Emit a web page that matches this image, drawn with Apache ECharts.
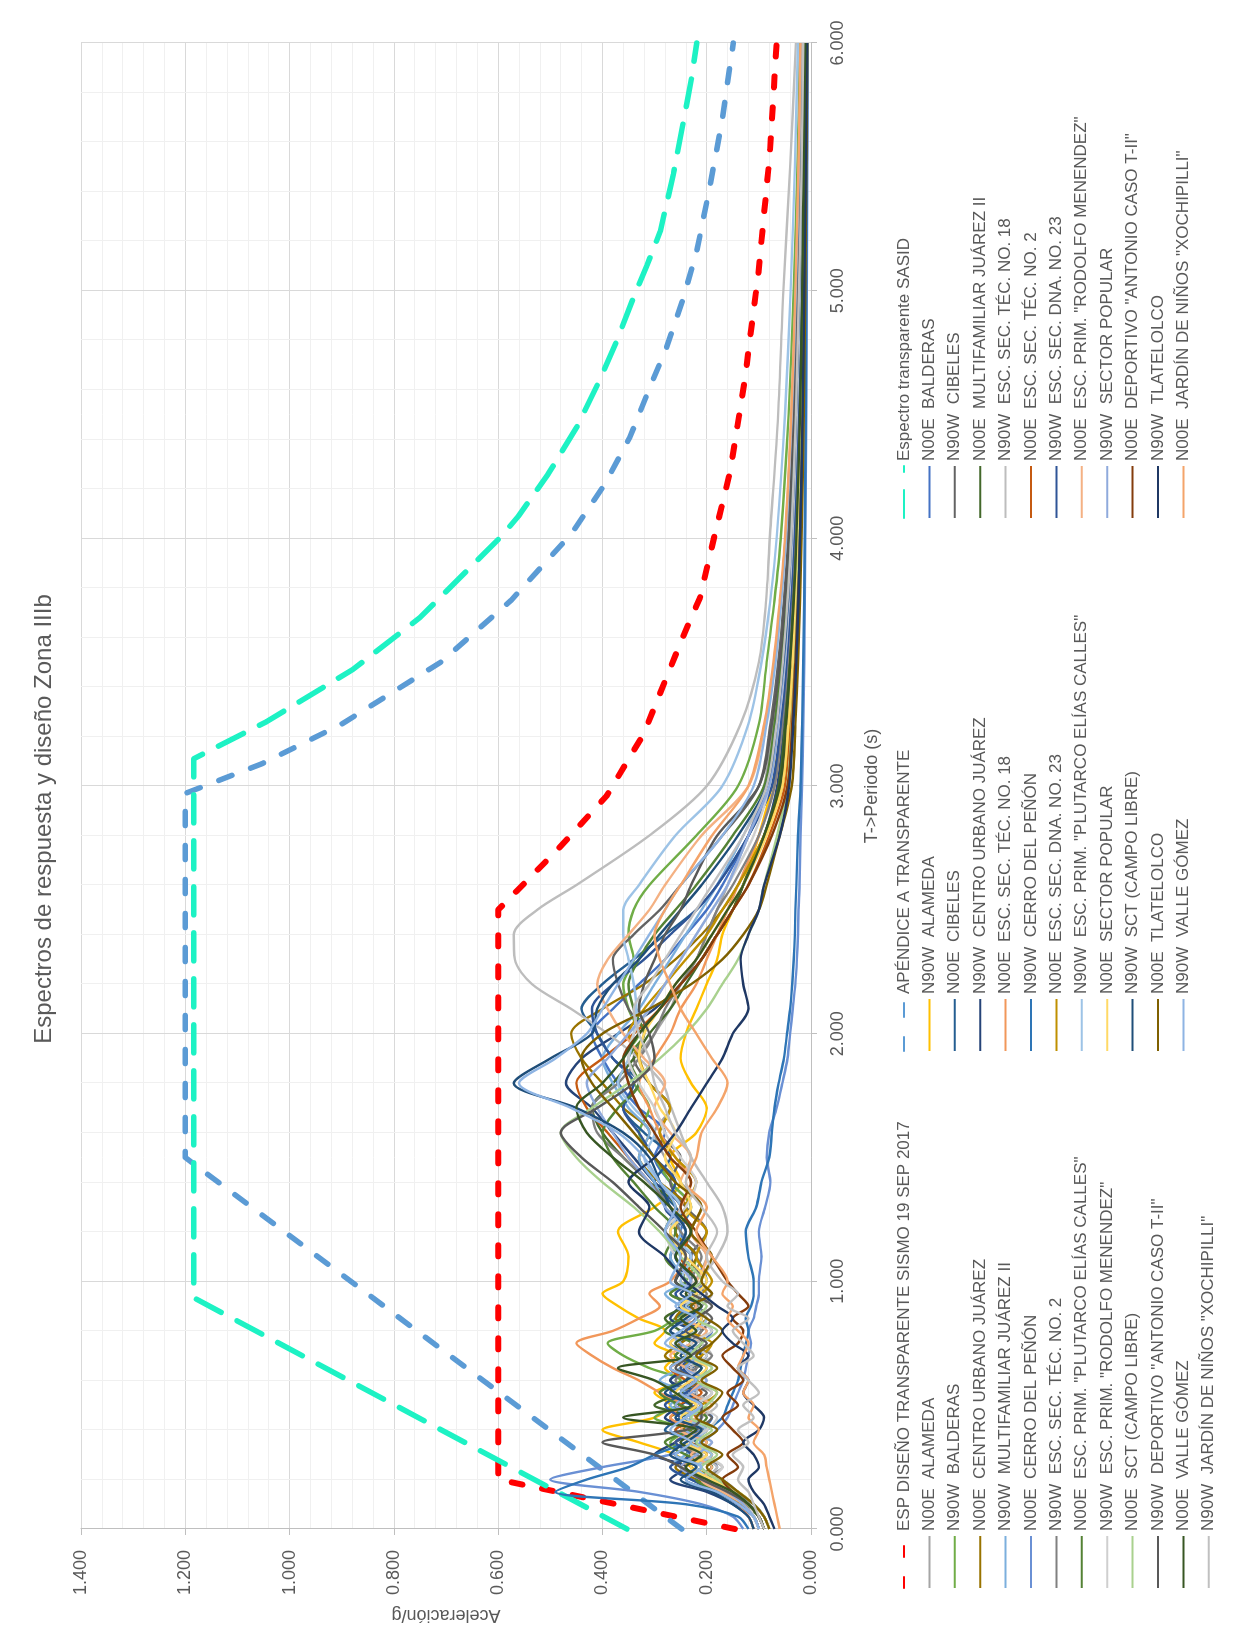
<!DOCTYPE html>
<html>
<head>
<meta charset="utf-8">
<script src="https://cdn.jsdelivr.net/npm/echarts@6.0.0/dist/echarts.min.js"></script>
<style>
  html, body { margin: 0; padding: 0; background: #ffffff; overflow: hidden; }
  #frame { position: absolute; left: 6px; top: 4px; width: 1222px; height: 1631px; border: 1px solid #d9d9d9; box-sizing: border-box; }
  /* the chart is laid out landscape and turned a quarter turn to sit upright on the page */
  #chart { position: absolute; left: 0; top: 0; width: 1638px; height: 1233px; transform-origin: 0 0; transform: translate(0px, 1638px) rotate(-90deg); }
</style>
</head>
<body>
<div id="frame"></div>
<div id="chart"></div>
<script>
// ---------- design spectra (period s, acceleration g) ----------
const espT   = [0, 0.2, 2.5, 2.75, 2.96, 3.21, 3.59, 3.76, 4.02, 4.27, 4.64, 5.07, 5.55, 6.0];
const espA   = [0.146, 0.6, 0.6, 0.483, 0.392, 0.321, 0.248, 0.213, 0.184, 0.155, 0.127, 0.101, 0.079, 0.066];
const apT    = [0, 1.5, 2.97, 3.09, 3.25, 3.5, 3.75, 4.02, 4.22, 4.41, 4.61, 4.77, 4.97, 5.16, 5.42, 5.68, 6.0];
const apA    = [0.248, 1.2, 1.2, 1.053, 0.90, 0.71, 0.575, 0.459, 0.395, 0.347, 0.309, 0.277, 0.245, 0.219, 0.194, 0.171, 0.149];
const sasidT = [0, 0.934, 3.11, 3.26, 3.47, 3.68, 3.89, 4.01, 4.09, 4.26, 4.45, 4.64, 4.8, 4.97, 5.1, 5.24, 5.47, 5.68, 5.86, 6.0];
const sasidA = [0.353, 1.184, 1.184, 1.044, 0.879, 0.75, 0.65, 0.593, 0.561, 0.504, 0.449, 0.405, 0.372, 0.341, 0.315, 0.289, 0.264, 0.245, 0.229, 0.219];

// ---------- periods shared by the recorded response spectra ----------
const periods = [
  0, 0.05, 0.1, 0.15, 0.2, 0.25, 0.3, 0.35, 0.4, 0.45,
  0.5, 0.55, 0.6, 0.65, 0.7, 0.75, 0.8, 0.85, 0.9, 0.95,
  1.0, 1.1, 1.2, 1.3, 1.4, 1.5, 1.6, 1.7, 1.8, 1.9,
  2.0, 2.1, 2.2, 2.3, 2.4, 2.5, 2.6, 2.8, 3.0, 3.25,
  3.5, 3.75, 4.0, 4.5, 5.0, 5.5, 6.0];

// ---------- recorded spectra, 19 Sep 2017 (Sa/g) ----------
const alamedaN00E = [
  0.09,0.10,0.12,0.14,0.17,0.21,0.19,0.23,0.20,0.24,
  0.22,0.19,0.23,0.21,0.25,0.22,0.20,0.24,0.21,0.19,
  0.22,0.20,0.23,0.21,0.25,0.28,0.30,0.27,0.31,0.33,
  0.30,0.27,0.25,0.22,0.20,0.18,0.16,0.12,0.09,0.072,
  0.058,0.048,0.040,0.031,0.025,0.020,0.017];
const alamedaN90W = [
  0.09,0.10,0.12,0.14,0.19,0.23,0.26,0.33,0.40,0.30,
  0.27,0.30,0.25,0.28,0.26,0.30,0.28,0.33,0.37,0.40,
  0.36,0.35,0.37,0.30,0.25,0.27,0.22,0.20,0.23,0.25,
  0.24,0.22,0.20,0.18,0.17,0.15,0.13,0.10,0.075,0.060,
  0.050,0.043,0.037,0.029,0.023,0.019,0.016];
const balderasN00E = [
  0.08,0.09,0.11,0.15,0.20,0.18,0.22,0.26,0.21,0.19,
  0.23,0.27,0.22,0.20,0.24,0.21,0.19,0.22,0.25,0.23,
  0.20,0.22,0.25,0.23,0.27,0.30,0.28,0.33,0.37,0.40,
  0.42,0.38,0.33,0.28,0.24,0.20,0.17,0.12,0.085,0.065,
  0.052,0.043,0.036,0.027,0.021,0.017,0.014];
const balderasN90W = [
  0.10,0.11,0.13,0.16,0.22,0.25,0.21,0.27,0.24,0.30,
  0.26,0.29,0.25,0.31,0.36,0.39,0.30,0.26,0.23,0.27,
  0.24,0.22,0.26,0.23,0.27,0.30,0.33,0.31,0.34,0.36,
  0.33,0.35,0.36,0.34,0.35,0.34,0.31,0.22,0.14,0.10,
  0.085,0.070,0.058,0.043,0.033,0.026,0.021];
const cibelesN00E = [
  0.10,0.11,0.14,0.18,0.24,0.21,0.26,0.22,0.28,0.25,
  0.21,0.24,0.27,0.23,0.20,0.25,0.22,0.26,0.23,0.21,
  0.24,0.27,0.23,0.26,0.30,0.27,0.32,0.36,0.33,0.38,
  0.41,0.44,0.40,0.34,0.28,0.22,0.18,0.12,0.075,0.058,
  0.047,0.039,0.033,0.025,0.020,0.016,0.013];
const cibelesN90W = [
  0.09,0.10,0.12,0.15,0.19,0.23,0.20,0.25,0.22,0.19,
  0.23,0.20,0.24,0.22,0.26,0.23,0.21,0.19,0.22,0.24,
  0.21,0.23,0.20,0.24,0.27,0.25,0.29,0.27,0.31,0.34,
  0.32,0.35,0.37,0.38,0.34,0.29,0.25,0.17,0.10,0.078,
  0.063,0.052,0.044,0.034,0.027,0.022,0.018];
const centroN00E = [
  0.10,0.11,0.13,0.17,0.22,0.26,0.23,0.20,0.24,0.27,
  0.22,0.25,0.21,0.24,0.28,0.25,0.22,0.26,0.24,0.21,
  0.25,0.22,0.26,0.24,0.29,0.33,0.31,0.36,0.40,0.44,
  0.46,0.40,0.32,0.26,0.21,0.17,0.14,0.09,0.06,0.048,
  0.040,0.034,0.029,0.022,0.017,0.014,0.011];
const centroN90W = [
  0.11,0.12,0.15,0.20,0.27,0.24,0.30,0.26,0.23,0.28,
  0.25,0.22,0.27,0.24,0.21,0.26,0.23,0.27,0.25,0.22,
  0.26,0.23,0.28,0.25,0.30,0.34,0.38,0.42,0.47,0.44,
  0.37,0.30,0.25,0.21,0.18,0.15,0.13,0.09,0.065,0.052,
  0.043,0.036,0.031,0.023,0.018,0.015,0.012];
const multiN00E = [
  0.09,0.10,0.12,0.16,0.21,0.19,0.24,0.21,0.26,0.23,
  0.30,0.25,0.22,0.27,0.24,0.21,0.25,0.28,0.24,0.22,
  0.26,0.24,0.28,0.26,0.31,0.36,0.40,0.42,0.38,0.34,
  0.31,0.27,0.24,0.21,0.18,0.15,0.13,0.09,0.062,0.050,
  0.041,0.034,0.029,0.022,0.017,0.014,0.012];
const multiN90W = [
  0.10,0.11,0.13,0.17,0.23,0.27,0.24,0.21,0.26,0.23,
  0.27,0.24,0.29,0.25,0.22,0.26,0.24,0.21,0.25,0.28,
  0.24,0.27,0.25,0.28,0.30,0.33,0.31,0.35,0.38,0.40,
  0.37,0.33,0.30,0.27,0.24,0.21,0.18,0.13,0.085,0.068,
  0.055,0.046,0.039,0.030,0.024,0.019,0.016];
const tec18N00E = [
  0.11,0.12,0.14,0.17,0.21,0.25,0.22,0.26,0.23,0.27,
  0.25,0.29,0.33,0.38,0.42,0.45,0.38,0.33,0.29,0.31,
  0.27,0.24,0.27,0.25,0.23,0.26,0.29,0.31,0.33,0.30,
  0.27,0.25,0.22,0.20,0.18,0.16,0.14,0.10,0.07,0.056,
  0.046,0.039,0.033,0.025,0.020,0.016,0.013];
const tec18N90W = [
  0.10,0.11,0.13,0.16,0.20,0.18,0.22,0.19,0.24,0.21,
  0.18,0.22,0.20,0.23,0.19,0.21,0.24,0.20,0.22,0.19,
  0.21,0.18,0.16,0.17,0.20,0.23,0.25,0.268,0.285,0.33,
  0.39,0.46,0.535,0.568,0.57,0.525,0.45,0.31,0.20,0.135,
  0.10,0.086,0.079,0.063,0.053,0.040,0.029];
const penonN00E = [
  0.13,0.15,0.21,0.33,0.50,0.40,0.27,0.21,0.18,0.16,
  0.15,0.14,0.13,0.125,0.12,0.115,0.12,0.11,0.105,0.10,
  0.10,0.095,0.10,0.088,0.078,0.085,0.08,0.066,0.055,0.045,
  0.040,0.035,0.030,0.027,0.025,0.024,0.022,0.020,0.017,0.015,
  0.013,0.012,0.011,0.009,0.008,0.007,0.006];
const penonN90W = [
  0.12,0.14,0.24,0.49,0.43,0.35,0.30,0.24,0.20,0.17,
  0.16,0.15,0.14,0.135,0.13,0.125,0.12,0.125,0.115,0.11,
  0.11,0.12,0.125,0.105,0.095,0.08,0.075,0.07,0.062,0.052,
  0.046,0.040,0.036,0.033,0.031,0.030,0.028,0.025,0.020,0.017,
  0.015,0.013,0.012,0.010,0.009,0.008,0.007];
const tec2N00E = [
  0.10,0.11,0.13,0.16,0.21,0.24,0.20,0.23,0.26,0.22,
  0.25,0.21,0.24,0.27,0.23,0.26,0.22,0.25,0.21,0.24,
  0.22,0.25,0.23,0.27,0.31,0.35,0.39,0.43,0.45,0.40,
  0.34,0.29,0.25,0.21,0.18,0.15,0.12,0.08,0.05,0.04,
  0.033,0.028,0.024,0.018,0.014,0.011,0.009];
const tec2N90W = [
  0.09,0.10,0.12,0.15,0.20,0.17,0.22,0.25,0.21,0.24,
  0.20,0.23,0.26,0.22,0.19,0.23,0.21,0.25,0.22,0.20,
  0.23,0.21,0.25,0.27,0.31,0.36,0.41,0.42,0.37,0.33,
  0.30,0.28,0.25,0.22,0.20,0.18,0.15,0.10,0.07,0.055,
  0.045,0.038,0.032,0.024,0.019,0.015,0.012];
const dna23N00E = [
  0.08,0.09,0.11,0.14,0.18,0.22,0.19,0.23,0.20,0.24,
  0.21,0.18,0.22,0.25,0.21,0.19,0.23,0.20,0.24,0.21,
  0.19,0.22,0.20,0.24,0.22,0.26,0.29,0.27,0.31,0.33,
  0.35,0.32,0.28,0.24,0.20,0.17,0.14,0.09,0.055,0.043,
  0.035,0.029,0.025,0.019,0.015,0.012,0.010];
const dna23N90W = [
  0.10,0.11,0.14,0.18,0.23,0.27,0.23,0.26,0.22,0.25,
  0.28,0.24,0.21,0.25,0.23,0.27,0.24,0.21,0.24,0.26,
  0.23,0.26,0.24,0.28,0.26,0.30,0.33,0.36,0.34,0.38,
  0.41,0.42,0.38,0.32,0.27,0.22,0.18,0.12,0.075,0.058,
  0.047,0.039,0.033,0.025,0.019,0.016,0.013];
const plutarcoN00E = [
  0.09,0.10,0.13,0.17,0.22,0.19,0.24,0.28,0.23,0.20,
  0.25,0.29,0.24,0.21,0.26,0.23,0.28,0.25,0.22,0.27,
  0.24,0.28,0.26,0.30,0.34,0.38,0.40,0.37,0.33,0.35,
  0.32,0.34,0.35,0.33,0.30,0.26,0.22,0.15,0.09,0.07,
  0.057,0.047,0.040,0.030,0.024,0.019,0.016];
const plutarcoN90W = [
  0.09,0.10,0.12,0.15,0.19,0.22,0.19,0.23,0.20,0.24,
  0.21,0.25,0.22,0.19,0.23,0.26,0.22,0.20,0.24,0.21,
  0.25,0.23,0.27,0.25,0.29,0.32,0.30,0.34,0.37,0.35,
  0.34,0.335,0.34,0.35,0.36,0.36,0.33,0.26,0.17,0.12,
  0.095,0.078,0.066,0.050,0.039,0.031,0.025];
const rodolfoN00E = [
  0.10,0.11,0.13,0.17,0.21,0.19,0.23,0.20,0.25,0.22,
  0.19,0.23,0.21,0.24,0.27,0.23,0.20,0.24,0.22,0.25,
  0.22,0.20,0.23,0.21,0.25,0.23,0.27,0.30,0.28,0.32,
  0.36,0.39,0.41,0.39,0.35,0.31,0.28,0.21,0.12,0.088,
  0.070,0.058,0.049,0.037,0.029,0.023,0.019];
const rodolfoN90W = [
  0.10,0.11,0.12,0.15,0.19,0.17,0.21,0.24,0.20,0.18,
  0.22,0.19,0.21,0.24,0.20,0.23,0.19,0.22,0.25,0.21,
  0.23,0.26,0.28,0.24,0.22,0.25,0.28,0.30,0.33,0.35,
  0.34,0.31,0.28,0.25,0.22,0.19,0.16,0.11,0.08,0.062,
  0.050,0.042,0.036,0.027,0.021,0.017,0.014];
const sectorN00E = [
  0.08,0.09,0.11,0.14,0.19,0.23,0.20,0.24,0.21,0.25,
  0.22,0.26,0.23,0.20,0.24,0.27,0.23,0.21,0.25,0.22,
  0.20,0.24,0.27,0.23,0.25,0.28,0.26,0.29,0.31,0.33,
  0.32,0.29,0.26,0.22,0.19,0.16,0.13,0.085,0.055,0.043,
  0.035,0.029,0.025,0.019,0.015,0.012,0.010];
const sectorN90W = [
  0.10,0.11,0.13,0.16,0.21,0.25,0.22,0.19,0.24,0.21,
  0.26,0.23,0.20,0.24,0.22,0.25,0.27,0.23,0.21,0.25,
  0.23,0.26,0.24,0.28,0.31,0.35,0.38,0.41,0.43,0.39,
  0.35,0.31,0.28,0.25,0.22,0.19,0.16,0.12,0.08,0.063,
  0.051,0.043,0.037,0.028,0.022,0.018,0.015];
const sctN00E = [
  0.08,0.09,0.11,0.14,0.18,0.21,0.18,0.22,0.19,0.23,
  0.20,0.18,0.22,0.19,0.23,0.21,0.18,0.22,0.20,0.24,
  0.21,0.25,0.29,0.34,0.40,0.45,0.48,0.42,0.35,0.29,
  0.24,0.20,0.17,0.14,0.12,0.10,0.09,0.065,0.045,0.037,
  0.031,0.026,0.022,0.017,0.013,0.011,0.009];
const sctN90W = [
  0.11,0.12,0.15,0.19,0.25,0.22,0.27,0.24,0.21,0.26,
  0.23,0.28,0.24,0.21,0.25,0.22,0.27,0.24,0.21,0.25,
  0.22,0.26,0.24,0.27,0.29,0.31,0.36,0.45,0.57,0.50,
  0.42,0.41,0.38,0.33,0.29,0.25,0.21,0.14,0.085,0.066,
  0.053,0.044,0.038,0.029,0.023,0.018,0.015];
const deportivoN00E = [
  0.09,0.10,0.12,0.15,0.17,0.14,0.16,0.13,0.15,0.17,
  0.14,0.16,0.13,0.15,0.17,0.14,0.13,0.15,0.12,0.14,
  0.16,0.19,0.22,0.25,0.23,0.27,0.30,0.33,0.35,0.36,
  0.33,0.29,0.25,0.21,0.18,0.15,0.12,0.075,0.045,0.036,
  0.030,0.025,0.021,0.016,0.013,0.010,0.008];
const deportivoN90W = [
  0.09,0.10,0.12,0.16,0.21,0.25,0.30,0.40,0.24,0.21,
  0.21,0.25,0.22,0.26,0.23,0.20,0.24,0.22,0.19,0.23,
  0.26,0.24,0.28,0.33,0.38,0.44,0.48,0.41,0.34,0.30,
  0.31,0.33,0.32,0.30,0.28,0.25,0.23,0.18,0.10,0.075,
  0.060,0.050,0.043,0.033,0.026,0.021,0.017];
const tlatelolcoN00E = [
  0.08,0.09,0.11,0.14,0.17,0.20,0.17,0.21,0.18,0.22,
  0.19,0.17,0.21,0.18,0.22,0.19,0.17,0.20,0.23,0.19,
  0.21,0.19,0.23,0.21,0.26,0.30,0.34,0.38,0.42,0.44,
  0.40,0.31,0.23,0.17,0.13,0.10,0.085,0.06,0.037,0.030,
  0.025,0.021,0.018,0.014,0.011,0.009,0.007];
const tlatelolcoN90W = [
  0.07,0.08,0.09,0.11,0.12,0.10,0.11,0.13,0.10,0.09,
  0.11,0.13,0.12,0.14,0.12,0.15,0.17,0.15,0.18,0.21,
  0.24,0.28,0.33,0.31,0.35,0.30,0.26,0.23,0.20,0.17,
  0.15,0.12,0.13,0.135,0.12,0.10,0.09,0.06,0.042,0.034,
  0.028,0.024,0.021,0.016,0.013,0.010,0.008];
const valleN00E = [
  0.09,0.10,0.12,0.15,0.20,0.24,0.21,0.25,0.22,0.36,
  0.23,0.26,0.30,0.37,0.23,0.26,0.22,0.25,0.21,0.24,
  0.22,0.26,0.23,0.27,0.32,0.38,0.43,0.45,0.40,0.36,
  0.33,0.29,0.26,0.22,0.19,0.16,0.13,0.09,0.06,0.048,
  0.040,0.033,0.028,0.021,0.017,0.014,0.011];
const valleN90W = [
  0.10,0.11,0.14,0.18,0.24,0.21,0.26,0.23,0.27,0.24,
  0.21,0.25,0.22,0.27,0.24,0.28,0.25,0.22,0.26,0.23,
  0.27,0.25,0.28,0.26,0.29,0.32,0.37,0.46,0.56,0.49,
  0.43,0.40,0.37,0.34,0.31,0.28,0.25,0.17,0.11,0.085,
  0.068,0.057,0.048,0.037,0.029,0.023,0.019];
const xochiN00E = [
  0.06,0.065,0.07,0.075,0.08,0.085,0.09,0.11,0.10,0.12,
  0.11,0.13,0.12,0.14,0.13,0.12,0.14,0.16,0.15,0.17,
  0.16,0.19,0.22,0.20,0.24,0.22,0.21,0.18,0.16,0.19,
  0.22,0.25,0.27,0.29,0.30,0.28,0.25,0.19,0.12,0.09,
  0.072,0.060,0.050,0.038,0.030,0.024,0.020];
const xochiN90W = [
  0.09,0.10,0.11,0.12,0.14,0.13,0.15,0.12,0.14,0.11,
  0.13,0.10,0.12,0.14,0.11,0.13,0.15,0.12,0.16,0.14,
  0.17,0.20,0.18,0.21,0.24,0.23,0.26,0.28,0.30,0.31,
  0.33,0.34,0.31,0.28,0.25,0.22,0.19,0.13,0.085,0.066,
  0.054,0.045,0.038,0.029,0.023,0.018,0.015];

// ---------- axis ticks ----------
const periodTicks = [0, 1, 2, 3, 4, 5, 6];
const accelTicks  = [0, 0.2, 0.4, 0.6, 0.8, 1.0, 1.2, 1.4];

// ---------- series in legend order (row by row, three per row) ----------
const designSeries = [
  { name: 'ESP DISEÑO TRANSPARENTE SISMO 19 SEP 2017', t: espT, a: espA },
  { name: 'APÉNDICE A TRANSPARENTE', t: apT, a: apA },
  { name: 'Espectro transparente SASID', t: sasidT, a: sasidA }
];
const recordSeries = [
  { name: 'N00E  ALAMEDA', v: alamedaN00E },
  { name: 'N90W  ALAMEDA', v: alamedaN90W },
  { name: 'N00E  BALDERAS', v: balderasN00E },
  { name: 'N90W  BALDERAS', v: balderasN90W },
  { name: 'N00E  CIBELES', v: cibelesN00E },
  { name: 'N90W  CIBELES', v: cibelesN90W },
  { name: 'N00E  CENTRO URBANO JUÁREZ', v: centroN00E },
  { name: 'N90W  CENTRO URBANO JUÁREZ', v: centroN90W },
  { name: 'N00E  MULTIFAMILIAR JUÁREZ II', v: multiN00E },
  { name: 'N90W  MULTIFAMILIAR JUÁREZ II', v: multiN90W },
  { name: 'N00E  ESC. SEC. TÉC. NO. 18', v: tec18N00E },
  { name: 'N90W  ESC. SEC. TÉC. NO. 18', v: tec18N90W },
  { name: 'N00E  CERRO DEL PEÑÓN', v: penonN00E },
  { name: 'N90W  CERRO DEL PEÑÓN', v: penonN90W },
  { name: 'N00E  ESC. SEC. TÉC. NO. 2', v: tec2N00E },
  { name: 'N90W  ESC. SEC. TÉC. NO. 2', v: tec2N90W },
  { name: 'N00E  ESC. SEC. DNA. NO. 23', v: dna23N00E },
  { name: 'N90W  ESC. SEC. DNA. NO. 23', v: dna23N90W },
  { name: 'N00E  ESC. PRIM. "PLUTARCO ELÍAS CALLES"', v: plutarcoN00E },
  { name: 'N90W  ESC. PRIM. "PLUTARCO ELÍAS CALLES"', v: plutarcoN90W },
  { name: 'N00E  ESC. PRIM. "RODOLFO MENENDEZ"', v: rodolfoN00E },
  { name: 'N90W  ESC. PRIM. "RODOLFO MENENDEZ"', v: rodolfoN90W },
  { name: 'N00E  SECTOR POPULAR', v: sectorN00E },
  { name: 'N90W  SECTOR POPULAR', v: sectorN90W },
  { name: 'N00E  SCT (CAMPO LIBRE)', v: sctN00E },
  { name: 'N90W  SCT (CAMPO LIBRE)', v: sctN90W },
  { name: 'N00E  DEPORTIVO "ANTONIO CASO T-II"', v: deportivoN00E },
  { name: 'N90W  DEPORTIVO "ANTONIO CASO T-II"', v: deportivoN90W },
  { name: 'N00E  TLATELOLCO', v: tlatelolcoN00E },
  { name: 'N90W  TLATELOLCO', v: tlatelolcoN90W },
  { name: 'N00E  VALLE GÓMEZ', v: valleN00E },
  { name: 'N90W  VALLE GÓMEZ', v: valleN90W },
  { name: 'N00E  JARDÍN DE NIÑOS "XOCHIPILLI"', v: xochiN00E },
  { name: 'N90W  JARDÍN DE NIÑOS "XOCHIPILLI"', v: xochiN90W }
];

// ---------- styling ----------
const FONT = '"Liberation Sans", Arial, sans-serif';
const TEXT = '#595959';
const designStyles = [
  { color: '#FF0000', width: 6, dash: [11, 20] },
  { color: '#5B9BD5', width: 5.5, dash: [14, 20] },
  { color: '#1DF2C4', width: 5.5, dash: [28, 18] }
];
const recordColors = [
  '#A5A5A5', '#FFC000', '#4472C4',
  '#70AD47', '#255E91', '#636363',
  '#997300', '#264478', '#43682B',
  '#7CAFDD', '#F1975A', '#BDBDBD',
  '#6A90D4', '#2E75B6', '#C55A11',
  '#808080', '#BF9000', '#2F5597',
  '#548235', '#9DC3E6', '#F4B183',
  '#CFCFCF', '#FFD966', '#8FAADC',
  '#A9D18E', '#1F4E79', '#843C0C',
  '#595959', '#7F6000', '#1F3864',
  '#375623', '#8EB4E3', '#F4A46A',
  '#C0C0C0'
];

const series = [];
designSeries.forEach((d, i) => {
  const s = designStyles[i];
  series.push({
    type: 'line', name: d.name, symbol: 'none', silent: true,
    data: d.t.map((t, k) => [t, d.a[k]]),
    lineStyle: { color: s.color, width: s.width, type: s.dash, cap: 'round', join: 'round' },
    itemStyle: { color: s.color },
    z: 2
  });
});
recordSeries.forEach((r, i) => {
  const c = recordColors[i];
  series.push({
    type: 'line', name: r.name, symbol: 'none', silent: true,
    data: periods.map((t, k) => [t, r.v[k]]),
    smooth: 0.3,
    lineStyle: { color: c, width: 2.4, join: 'round' },
    itemStyle: { color: c },
    z: 3
  });
});

const allNames = series.map(s => s.name);
const legendLeft = [44, 581, 1114];
const legends = [0, 1, 2].map(col => ({
  orient: 'vertical',
  left: legendLeft[col],
  top: 889,
  itemWidth: 52,
  itemHeight: 14,
  itemGap: 5.4,
  selectedMode: false,
  itemStyle: { opacity: 0 },
  data: allNames.filter((_, i) => i % 3 === col),
  textStyle: { fontFamily: FONT, fontSize: 17, color: TEXT, lineHeight: 20 }
}));

const chart = echarts.init(document.getElementById('chart'), null, { width: 1638, height: 1233, renderer: 'canvas' });
chart.setOption({
  animation: false,
  backgroundColor: '#ffffff',
  textStyle: { fontFamily: FONT },
  title: {
    text: 'Espectros de respuesta y diseño Zona IIIb',
    left: 'center', top: 27,
    textStyle: { fontFamily: FONT, fontSize: 24, fontWeight: 'normal', color: TEXT }
  },
  legend: legends,
  grid: { left: 109, right: 43, top: 81, bottom: 422, containLabel: false, outerBoundsMode: 'none' },
  xAxis: {
    type: 'value',
    min: periodTicks[0], max: periodTicks[periodTicks.length - 1], interval: 1,
    name: 'T->Periodo (s)', nameLocation: 'middle', nameGap: 52,
    nameTextStyle: { fontFamily: FONT, fontSize: 18, color: TEXT },
    axisLine: { show: true, onZero: false, lineStyle: { color: '#bfbfbf', width: 1 } },
    axisTick: { show: true, length: 6, lineStyle: { color: '#bfbfbf' } },
    axisLabel: { fontFamily: FONT, fontSize: 18, color: TEXT, margin: 18, formatter: v => v.toFixed(3) },
    splitLine: { show: true, lineStyle: { color: '#d9d9d9', width: 1 } },
    minorTick: { show: false, splitNumber: 5 },
    minorSplitLine: { show: true, lineStyle: { color: '#f0f0f0', width: 1 } }
  },
  yAxis: {
    type: 'value',
    min: accelTicks[0], max: accelTicks[accelTicks.length - 1], interval: 0.2,
    name: 'Aceleración/g', nameLocation: 'middle', nameGap: 76,
    nameTextStyle: { fontFamily: FONT, fontSize: 18, color: TEXT },
    axisLine: { show: true, onZero: false, lineStyle: { color: '#bfbfbf', width: 1 } },
    axisTick: { show: true, length: 6, lineStyle: { color: '#bfbfbf' } },
    axisLabel: { fontFamily: FONT, fontSize: 18, color: TEXT, margin: 21, formatter: v => v.toFixed(3) },
    splitLine: { show: true, lineStyle: { color: '#d9d9d9', width: 1 } },
    minorTick: { show: false, splitNumber: 5 },
    minorSplitLine: { show: true, lineStyle: { color: '#f0f0f0', width: 1 } }
  },
  series: series
});
</script>
</body>
</html>
